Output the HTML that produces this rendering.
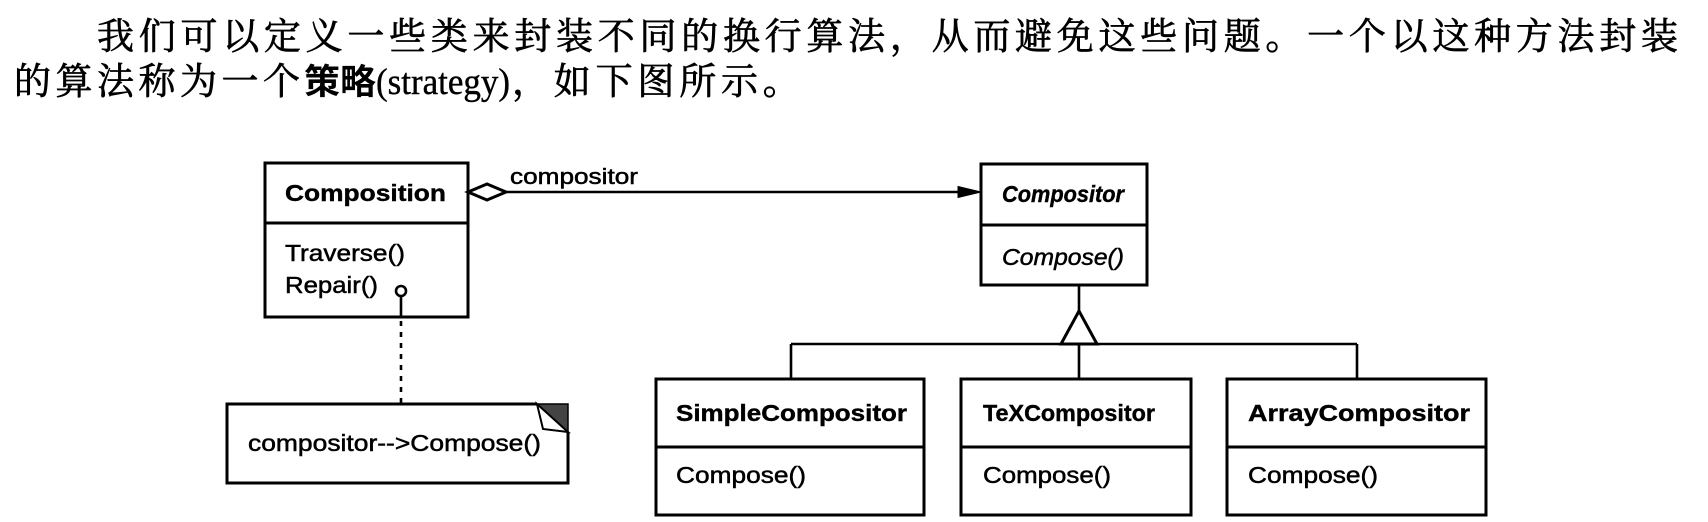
<!DOCTYPE html>
<html>
<head>
<meta charset="utf-8">
<style>
  html, body { margin: 0; padding: 0; background: #fff; }
  body { width: 1708px; height: 522px; overflow: hidden; }
  svg { display: block; }
  .cjk { font-family: "Liberation Serif", "Noto Serif CJK SC", serif; fill: #000; stroke: #000; stroke-width: 0.7; }
  .cjkb { font-family: "Liberation Sans", "Noto Sans CJK SC", sans-serif; font-weight: bold; fill: #000; }
  .lat { font-family: "Liberation Serif", serif; fill: #000; stroke: #000; stroke-width: 0.4; }
  .uml { font-family: "Liberation Sans", Arial, sans-serif; fill: #000; stroke: #000; stroke-width: 0.5; }
  .b { font-weight: bold; stroke-width: 0.4; }
  .i { font-style: italic; }
</style>
</head>
<body>
<svg width="1708" height="522" viewBox="0 0 1708 522" xmlns="http://www.w3.org/2000/svg">
  <rect x="0" y="0" width="1708" height="522" fill="#fff"/>

  <!-- Paragraph text -->
  <text class="cjk" x="97" y="49" font-size="37" textLength="1581" lengthAdjust="spacing">我们可以定义一些类来封装不同的换行算法，从而避免这些问题。一个以这种方法封装</text>
  <text class="cjk" x="14" y="94" font-size="37" letter-spacing="4.5">的算法称为一个</text>
  <text class="cjkb" x="304" y="94" font-size="35" textLength="72" lengthAdjust="spacingAndGlyphs">策略</text>
  <text class="lat" x="376" y="94" font-size="37" textLength="134" lengthAdjust="spacingAndGlyphs">(strategy)</text>
  <text class="cjk" x="512" y="94" font-size="37" letter-spacing="4.8">，如下图所示。</text>

  <g stroke="#000" fill="none" stroke-width="3">
    <!-- Composition box -->
    <rect x="265" y="163" width="203" height="154" fill="#fff"/>
    <line x1="265" y1="223" x2="468" y2="223"/>

    <!-- Compositor box -->
    <rect x="981" y="164" width="166" height="121" fill="#fff"/>
    <line x1="981" y1="225" x2="1147" y2="225"/>

    <!-- SimpleCompositor -->
    <rect x="656" y="379" width="268" height="136" fill="#fff"/>
    <line x1="656" y1="447" x2="924" y2="447"/>

    <!-- TeXCompositor -->
    <rect x="961" y="379" width="230" height="136" fill="#fff"/>
    <line x1="961" y1="447" x2="1191" y2="447"/>

    <!-- ArrayCompositor -->
    <rect x="1227" y="379" width="259" height="136" fill="#fff"/>
    <line x1="1227" y1="447" x2="1486" y2="447"/>
  </g>

  <!-- Aggregation line with diamond and arrow -->
  <g stroke="#000" stroke-width="2.6">
    <line x1="506" y1="192" x2="965" y2="192"/>
    <polygon points="468,192 487,184 506,192 487,200" fill="#fff" stroke-width="3"/>
    <polygon points="958,186.5 981,192 958,197.5" fill="#000" stroke-width="1"/>
  </g>
  <text class="uml" x="510" y="184" font-size="22" textLength="128" lengthAdjust="spacingAndGlyphs">compositor</text>

  <!-- Inheritance -->
  <g stroke="#000" stroke-width="2.6" fill="none">
    <line x1="1079" y1="285" x2="1079" y2="311"/>
    <polygon points="1079,311 1061,344 1097,344" fill="#fff" stroke-width="3"/>
    <line x1="791" y1="344" x2="1357" y2="344"/>
    <line x1="791" y1="344" x2="791" y2="379"/>
    <line x1="1079" y1="344" x2="1079" y2="379"/>
    <line x1="1357" y1="344" x2="1357" y2="379"/>
  </g>

  <!-- Repair() circle + dashed connector -->
  <g stroke="#000" stroke-width="2.6" fill="none">
    <circle cx="401" cy="291" r="5" fill="#fff"/>
    <line x1="401" y1="296" x2="401" y2="317"/>
    <line x1="401" y1="321" x2="401" y2="404" stroke-dasharray="5,6"/>
  </g>

  <!-- Note box -->
  <g stroke="#000" stroke-width="3" fill="none">
    <polyline points="537,404 227,404 227,483 568,483 568,432" fill="#fff"/>
    <polygon points="537,404 568,404 568,432" fill="#444" stroke-width="1.5"/>
    <polygon points="537,404 568,432 543,429" fill="#fff" stroke-width="2"/>
  </g>
  <text class="uml" x="248" y="451" font-size="23" textLength="293" lengthAdjust="spacingAndGlyphs">compositor--&gt;Compose()</text>

  <!-- Composition texts -->
  <text class="uml b" x="285" y="201" font-size="23" textLength="161" lengthAdjust="spacingAndGlyphs">Composition</text>
  <text class="uml" x="285" y="261" font-size="23" textLength="120" lengthAdjust="spacingAndGlyphs">Traverse()</text>
  <text class="uml" x="285" y="293" font-size="23" textLength="93" lengthAdjust="spacingAndGlyphs">Repair()</text>

  <!-- Compositor texts -->
  <text class="uml b i" x="1002" y="202" font-size="23" textLength="122" lengthAdjust="spacingAndGlyphs">Compositor</text>
  <text class="uml i" x="1002" y="265" font-size="23" textLength="122" lengthAdjust="spacingAndGlyphs">Compose()</text>

  <!-- Subclass texts -->
  <text class="uml b" x="676" y="421" font-size="23" textLength="231" lengthAdjust="spacingAndGlyphs">SimpleCompositor</text>
  <text class="uml" x="676" y="483" font-size="23" textLength="130" lengthAdjust="spacingAndGlyphs">Compose()</text>

  <text class="uml b" x="983" y="421" font-size="23" textLength="172" lengthAdjust="spacingAndGlyphs">TeXCompositor</text>
  <text class="uml" x="983" y="483" font-size="23" textLength="128" lengthAdjust="spacingAndGlyphs">Compose()</text>

  <text class="uml b" x="1248" y="421" font-size="23" textLength="222" lengthAdjust="spacingAndGlyphs">ArrayCompositor</text>
  <text class="uml" x="1248" y="483" font-size="23" textLength="130" lengthAdjust="spacingAndGlyphs">Compose()</text>
</svg>
</body>
</html>
